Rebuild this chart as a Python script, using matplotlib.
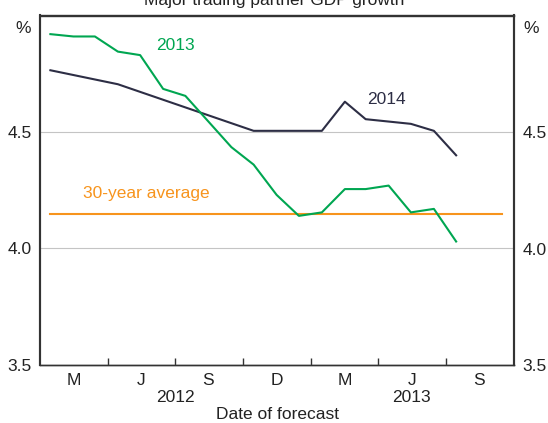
import numpy as np
import pandas as pd
import matplotlib
matplotlib.use("Agg")
import matplotlib.pyplot as plt
import matplotlib.dates as mdates
import matplotlib.ticker as mticker

plt.rcParams['font.family'] = ['Liberation Sans', 'DejaVu Sans']
plt.rcParams['font.size'] = 12.5

# --- data ---
dates_2013 = pd.date_range('2012-01-01', periods=19, freq='MS') + pd.Timedelta(days=14)
vals_2013 = [4.92, 4.91, 4.91, 4.845, 4.83, 4.685, 4.655, 4.545, 4.435, 4.36,
             4.23, 4.14, 4.155, 4.255, 4.255, 4.27, 4.155, 4.17, 4.03]

dates_2014 = pd.to_datetime(['2012-01-15', '2012-04-15', '2012-10-15', '2013-01-15',
                             '2013-02-15', '2013-03-15', '2013-05-15', '2013-06-15',
                             '2013-07-15'])
vals_2014 = [4.765, 4.705, 4.505, 4.505, 4.63, 4.555, 4.535, 4.505, 4.40]

avg_dates = pd.to_datetime(['2012-01-15', '2013-09-15'])
avg_30yr = 4.15

quarter_labels = ['M', 'J', 'S', 'D', 'M', 'J', 'S']
years = ['2012', '2013']

GREEN = '#00a651'
DARK = '#2d2e45'
ORANGE = '#f7941d'
SPINE = '#333333'

fig = plt.figure(figsize=(5.48, 4.23), dpi=100)
ax = fig.add_axes([40/548, 1-365/423, 474/548, 349.5/423])

ax.plot(avg_dates, [avg_30yr, avg_30yr], color=ORANGE, lw=1.5, zorder=2)
ax.plot(dates_2014, vals_2014, color=DARK, lw=1.5, zorder=3)
ax.plot(dates_2013, vals_2013, color=GREEN, lw=1.5, zorder=4)

ax.set_xlim(pd.Timestamp('2012-01-01'), pd.Timestamp('2013-10-01'))
ax.set_ylim(3.5, 5.0)

# y axis
ax.set_yticks([3.5, 4.0, 4.5])
ax.yaxis.set_major_formatter(mticker.FormatStrFormatter('%.1f'))
ax.tick_params(axis='y', length=0, pad=6, colors='#222222')
ax.grid(axis='y', color='#c4c4c4', lw=0.8)
ax.set_axisbelow(True)

ax2 = ax.twinx()
ax2.set_ylim(3.5, 5.0)
ax2.set_yticks([3.5, 4.0, 4.5])
ax2.yaxis.set_major_formatter(mticker.FormatStrFormatter('%.1f'))
ax2.tick_params(axis='y', length=0, pad=6, colors='#222222')

ax.text(-0.02, 0.985, '%', transform=ax.transAxes, ha='right', va='top', color='#222222')
ax.text(1.02, 0.985, '%', transform=ax.transAxes, ha='left', va='top', color='#222222')

# x axis: quarter boundaries as inward ticks, labels at mid quarter
q_starts = pd.date_range('2012-04-01', '2013-07-01', freq='QS')
q_mids = pd.date_range('2012-01-01', '2013-07-01', freq='QS') + pd.Timedelta(days=45)
ax.xaxis.set_minor_locator(mticker.FixedLocator(mdates.date2num(q_starts)))
ax.xaxis.set_major_locator(mticker.FixedLocator(mdates.date2num(q_mids)))
ax.xaxis.set_major_formatter(mticker.FixedFormatter(quarter_labels))
ax.tick_params(axis='x', which='major', length=0, pad=6, colors='#222222')
ax.tick_params(axis='x', which='minor', direction='in', length=5, width=1, color=SPINE)

year_pos = [pd.Timestamp('2012-07-01'), pd.Timestamp('2013-05-16')]
for yp, yl in zip(year_pos, years):
    ax.text(mdates.date2num(yp), -0.092, yl, transform=ax.get_xaxis_transform(),
            ha='center', va='center', color='#222222')
fig.text(277/548, 1-414/423, 'Date of forecast', ha='center', va='center', color='#222222')

for a in (ax, ax2):
    for s in ('left', 'right'):
        a.spines[s].set_linewidth(1.5)
        a.spines[s].set_color(SPINE)
    for s in ('top', 'bottom'):
        a.spines[s].set_linewidth(1.0)
        a.spines[s].set_color(SPINE)

# annotations
ax.text(mdates.date2num(pd.Timestamp('2012-07-01')), 4.87, '2013', color=GREEN,
        ha='center', va='center')
ax.text(mdates.date2num(pd.Timestamp('2013-04-12')), 4.64, '2014', color=DARK,
        ha='center', va='center')
ax.text(mdates.date2num(pd.Timestamp('2012-05-23')), 4.235, '30-year average', color=ORANGE,
        ha='center', va='center')

fig.text(0.5, 1-5/423, 'Major trading partner GDP growth', ha='center', va='baseline',
         color='#222222')

fig.savefig('out.png', dpi=100)
